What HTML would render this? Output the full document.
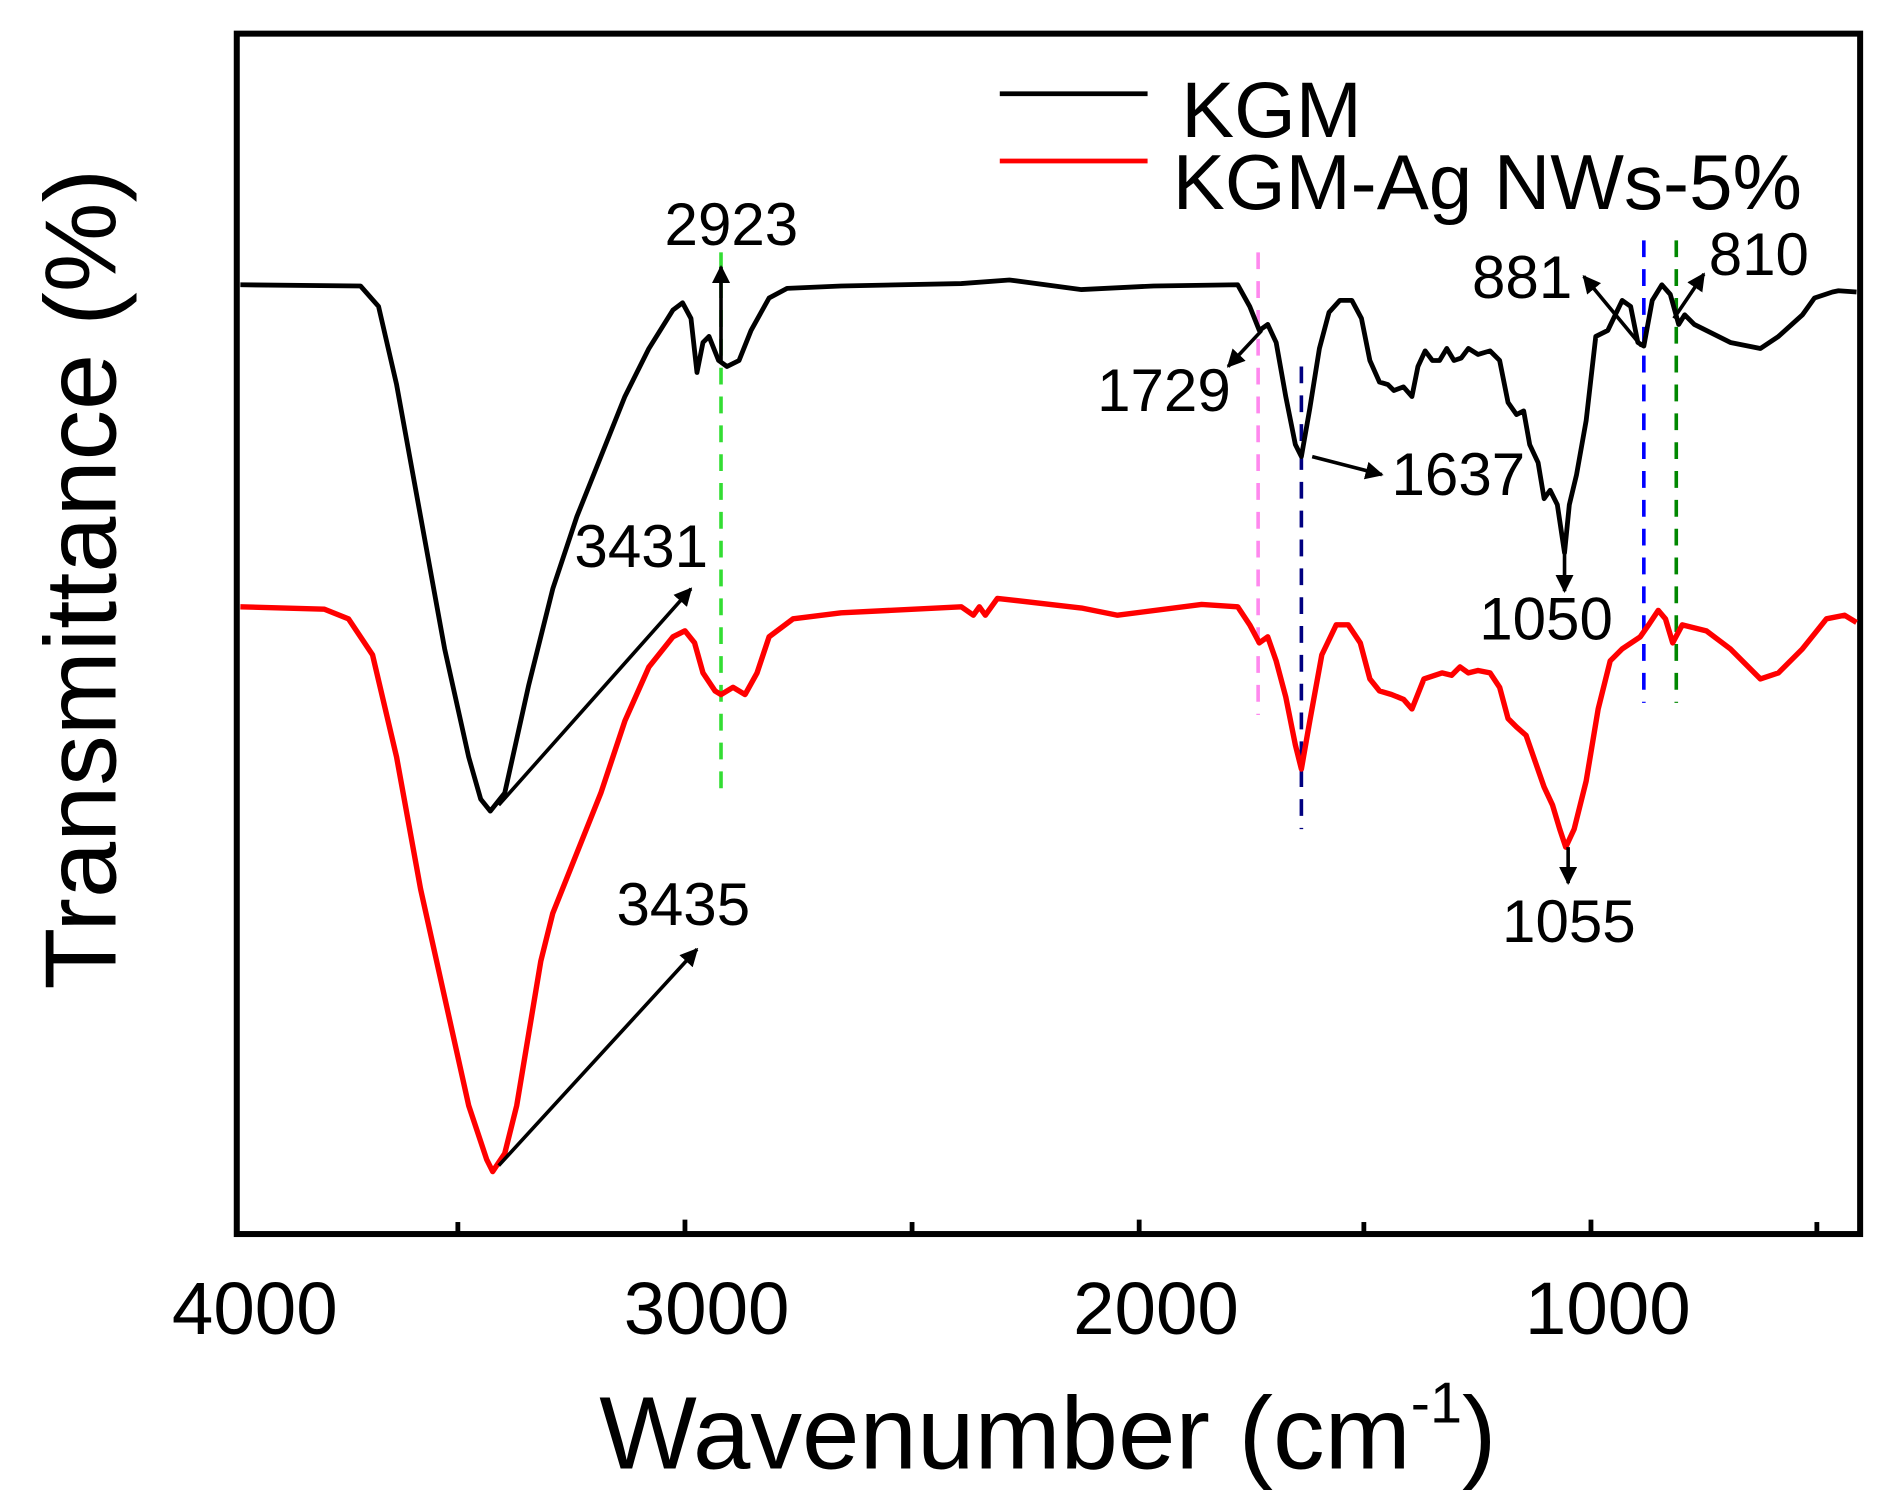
<!DOCTYPE html>
<html><head><meta charset="utf-8"><style>html,body{margin:0;padding:0;background:#fff}svg{display:block}</style></head>
<body>
<svg width="1877" height="1502" viewBox="0 0 1562 1250" xmlns="http://www.w3.org/2000/svg" font-family="Liberation Sans, sans-serif">
<defs>
<marker id="ah" viewBox="0 0 10 10" refX="9" refY="5" markerWidth="5" markerHeight="5" orient="auto-start-reverse"><path d="M0,0 L10,5 L0,10 z" fill="#000"/></marker>
</defs>
<rect x="197" y="28" width="1351" height="999" fill="none" stroke="#000" stroke-width="5"/>
<g stroke="#000" stroke-width="4">
<line x1="381" y1="1027" x2="381" y2="1017"/><line x1="570" y1="1027" x2="570" y2="1015"/>
<line x1="759" y1="1027" x2="759" y2="1017"/><line x1="948" y1="1027" x2="948" y2="1015"/>
<line x1="1135" y1="1027" x2="1135" y2="1017"/><line x1="1324" y1="1027" x2="1324" y2="1015"/>
<line x1="1512" y1="1027" x2="1512" y2="1017"/>
</g>
<g font-size="62" text-anchor="middle" fill="#000">
<text x="212" y="1110">4000</text><text x="588" y="1110">3000</text>
<text x="962" y="1110">2000</text><text x="1338" y="1110">1000</text>
</g>
<text x="872" y="1222" font-size="86" text-anchor="middle">Wavenumber (cm<tspan font-size="48" dy="-38">-1</tspan><tspan dy="38">)</tspan></text>
<text transform="translate(96,482) rotate(-90)" font-size="84" text-anchor="middle">Transmittance (%)</text>
<g stroke-width="3" stroke-dasharray="14,10" fill="none">
<line x1="600" y1="210" x2="600" y2="665" stroke="#33dd33"/>
<line x1="1047" y1="210" x2="1047" y2="595" stroke="#ff88ee"/>
<line x1="1083" y1="305" x2="1083" y2="690" stroke="#000080"/>
<line x1="1368" y1="200" x2="1368" y2="585" stroke="#0000ff"/>
<line x1="1395" y1="200" x2="1395" y2="585" stroke="#008800"/>
</g>
<polyline fill="none" stroke="#000" stroke-width="4" stroke-linejoin="round" points="200,237 300,238 315,255 330,320 350,430 370,540 390,630 400,665 408,675 420,660 440,570 460,490 480,430 500,380 520,330 540,290 560,258 568,252 575,265 580,310 585,285 590,280 598,300 605,305 615,300 625,275 640,248 655,240 700,238 800,236 840,233 900,241 960,238 1030,237 1040,255 1048,275 1055,270 1062,285 1070,330 1078,370 1083,380 1090,340 1098,290 1106,260 1115,250 1125,250 1133,265 1140,300 1148,318 1155,320 1160,325 1168,322 1175,330 1180,305 1186,292 1192,300 1198,300 1204,290 1210,300 1216,298 1222,290 1230,295 1240,292 1248,300 1255,335 1262,345 1268,342 1273,370 1280,385 1285,415 1290,408 1296,420 1302,460 1306,420 1312,395 1320,350 1328,280 1338,275 1350,250 1357,255 1363,285 1368,288 1375,250 1383,237 1390,245 1397,270 1402,262 1410,270 1440,285 1465,290 1480,280 1500,262 1510,248 1525,243 1530,242 1545,243"/>
<polyline fill="none" stroke="#ff0000" stroke-width="4.5" stroke-linejoin="round" points="200,505 270,507 290,515 310,545 330,630 350,740 370,830 390,920 405,965 410,975 420,960 430,920 440,860 450,800 460,760 480,710 500,660 520,600 540,555 560,530 570,525 578,535 585,560 595,575 600,578 610,572 620,578 630,560 640,530 660,515 700,510 800,505 810,512 815,505 820,512 830,498 900,506 930,512 1000,503 1030,505 1040,520 1048,535 1055,530 1062,550 1070,580 1078,620 1083,640 1090,600 1100,545 1112,520 1122,520 1132,535 1140,565 1148,575 1158,578 1168,582 1175,590 1185,565 1200,560 1208,562 1215,555 1222,560 1230,558 1240,560 1248,572 1255,598 1262,605 1270,612 1278,635 1285,655 1292,670 1298,690 1303,705 1310,690 1320,650 1330,590 1340,550 1350,540 1365,530 1372,520 1380,508 1386,515 1392,535 1400,520 1420,525 1440,540 1465,565 1480,560 1500,540 1520,515 1535,512 1545,518"/>
<g stroke="#000" stroke-width="3" marker-end="url(#ah)">
<line x1="600" y1="300" x2="600" y2="222"/>
<line x1="415" y1="670" x2="575" y2="490"/>
<line x1="415" y1="970" x2="580" y2="790"/>
<line x1="1050" y1="275" x2="1022" y2="305"/>
<line x1="1092" y1="380" x2="1150" y2="395"/>
<line x1="1302" y1="445" x2="1302" y2="492"/>
<line x1="1305" y1="705" x2="1305" y2="735"/>
<line x1="1366" y1="288" x2="1318" y2="230"/>
<line x1="1393" y1="265" x2="1418" y2="228"/>
</g>
<g font-size="50" fill="#000">
<text x="553" y="204">2923</text>
<text x="478" y="472">3431</text>
<text x="513" y="770">3435</text>
<text x="913" y="342">1729</text>
<text x="1158" y="412">1637</text>
<text x="1231" y="532">1050</text>
<text x="1250" y="784">1055</text>
<text x="1225" y="248">881</text>
<text x="1422" y="229">810</text>
</g>
<line x1="832" y1="78" x2="955" y2="78" stroke="#000" stroke-width="4"/>
<line x1="832" y1="134" x2="955" y2="134" stroke="#ff0000" stroke-width="4"/>
<text x="983" y="114" font-size="66">KGM</text>
<text x="976" y="174" font-size="65">KGM-Ag NWs-5%</text>
</svg>
</body></html>
